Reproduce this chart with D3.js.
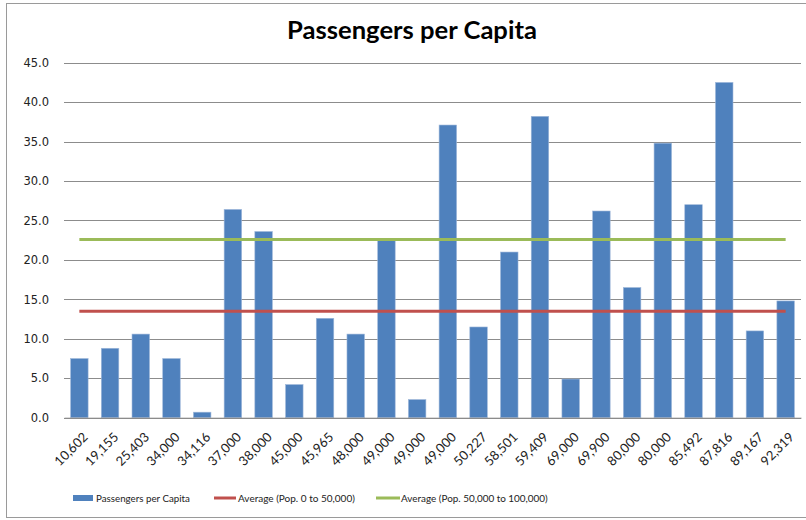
<!DOCTYPE html>
<html>
<head>
<meta charset="utf-8">
<script src="https://cdn.jsdelivr.net/npm/d3@7"></script>
<style>
body{margin:0;background:#fff;}
</style>
</head>
<body>
<script>
// populacja miast (kategorie) i pasazerowie na mieszkanca
var miasta=["10,602","19,155","25,403","34,000","34,116","37,000","38,000","45,000","45,965","48,000",
	"49,000","49,000","49,000","50,227","58,501","59,409","69,000","69,900","80,000","80,000",
	"85,492","87,816","89,167","92,319"];
var pasazerowie=[7.5,8.8,10.6,7.5,0.7,26.4,23.6,4.2,12.6,10.6,
	22.5,2.3,37.1,11.5,21.0,38.2,4.9,26.2,16.5,34.8,
	27.0,42.5,11.0,14.8];
var sredniaMale=13.5;   // Average (Pop. 0 to 50,000)
var sredniaDuze=22.6;   // Average (Pop. 50,000 to 100,000)
var tykiY=[0,5,10,15,20,25,30,35,40,45];
var legenda=["Passengers per Capita","Average (Pop. 0 to 50,000)","Average (Pop. 50,000 to 100,000)"];

var szer=806, wys=520;
var svg=d3.select("body").append("svg")
	.attr("width",szer)
	.attr("height",wys);

// dopasowanie rozmiaru czcionki do szerokosci z obrazka
function dopasuj(tekst, szerokosc)
{
	var rozmiar=parseFloat(tekst.style("font-size"));
	var dl=tekst.node().getComputedTextLength();
	if(dl>0)
		tekst.style("font-size",(rozmiar*szerokosc/dl)+"px");
}

// ramka wykresu
svg.append("rect").attr("x",6.5).attr("y",3.5).attr("width",szer+10).attr("height",514)
	.style("fill","white").style("stroke","#9a9a9a");

var lewy=64, prawy=801, gora=62.7, dol=417.7;

var x=d3.scaleBand().domain(d3.range(miasta.length)).range([lewy,prawy])
	.paddingInner(0.43).paddingOuter(0.215);
var y=d3.scaleLinear().domain([0,45]).range([dol,gora]);

//siatka
svg.append("g").selectAll("line").data(tykiY).enter().append("line")
	.attr("x1",lewy).attr("x2",prawy)
	.attr("y1",function(d){return Math.round(y(d))+0.5;})
	.attr("y2",function(d){return Math.round(y(d))+0.5;})
	.style("stroke","#8c8c8c").style("stroke-width",1);

//os Y
var osY=svg.append("g").attr("transform","translate("+lewy+",0)")
	.call(d3.axisLeft(y).tickValues(tykiY).tickSize(0).tickPadding(15).tickFormat(d3.format(".1f")));
osY.select(".domain").remove();
osY.selectAll("text").style("font-family","DejaVu Sans").style("font-size","11.5px").style("fill","#222");

//slupki
svg.append("g").selectAll("rect").data(pasazerowie).enter().append("rect")
	.attr("x",function(d,i){return x(i);})
	.attr("y",function(d){return y(d);})
	.attr("width",x.bandwidth())
	.attr("height",function(d){return dol-y(d);})
	.style("fill","#4f81bd")
	.style("stroke","#9fb8da")
	.style("stroke-width",0.6);

//os X
var osX=svg.append("g").attr("transform","translate(0,"+dol+")")
	.call(d3.axisBottom(x).tickSize(0).tickFormat(function(i){return miasta[i];}));
osX.select(".domain").style("stroke","#8c8c8c");
osX.selectAll("text")
	.style("font-family","Lato").style("font-size","13px").style("fill","#222")
	.attr("text-anchor","end")
	.attr("dy","0.35em")
	.attr("transform","translate(6,17) rotate(-45)")
	.attr("y",0).attr("x",0);

//linie srednich
var srodek=function(i){return x(i)+x.bandwidth()/2;};
var linia=d3.line().x(function(d,i){return srodek(i);}).y(function(d){return y(d);});
svg.append("path").datum(miasta.map(function(){return sredniaMale;}))
	.attr("d",linia).style("fill","none").style("stroke","#c0504d").style("stroke-width",3);
svg.append("path").datum(miasta.map(function(){return sredniaDuze;}))
	.attr("d",linia).style("fill","none").style("stroke","#9bbb59").style("stroke-width",3);

//tytul
var tytul=svg.append("text").attr("x",412).attr("y",39).attr("text-anchor","middle")
	.style("font-family","Lato").style("font-weight","bold").style("font-size","20px")
	.style("fill","#000").text("Passengers per Capita");
dopasuj(tytul,250);

//legenda
var leg=svg.append("g").style("font-family","Lato").style("font-size","11px");
leg.append("rect").attr("x",73).attr("y",495).attr("width",20).attr("height",6).style("fill","#4f81bd");
dopasuj(leg.append("text").attr("x",96).attr("y",502).text(legenda[0]).style("font-size","11px").style("fill","#222"),94);
leg.append("line").attr("x1",214).attr("x2",236).attr("y1",498).attr("y2",498)
	.style("stroke","#c0504d").style("stroke-width",3);
dopasuj(leg.append("text").attr("x",238).attr("y",502).text(legenda[1]).style("font-size","11px").style("fill","#222"),117);
leg.append("line").attr("x1",376).attr("x2",400).attr("y1",498).attr("y2",498)
	.style("stroke","#9bbb59").style("stroke-width",3);
dopasuj(leg.append("text").attr("x",401).attr("y",502).text(legenda[2]).style("font-size","11px").style("fill","#222"),147);
</script>
</body>
</html>
